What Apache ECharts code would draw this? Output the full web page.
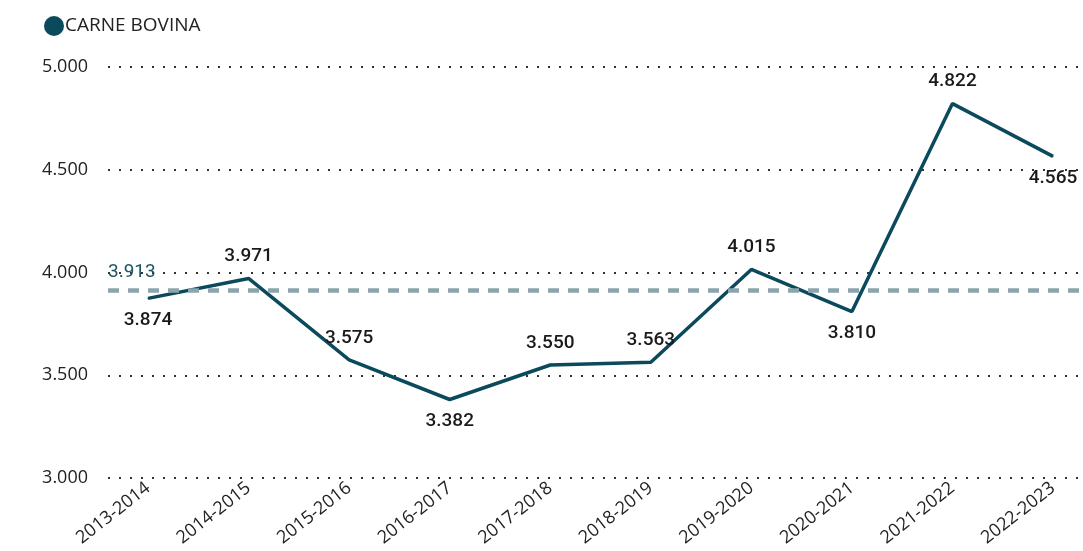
<!DOCTYPE html>
<html>
<head>
<meta charset="utf-8">
<script src="https://cdn.jsdelivr.net/npm/echarts@6/dist/echarts.min.js"></script>
<style>
  html, body { margin: 0; padding: 0; background: #fff; }
  #main { width: 1083px; height: 551px; }
</style>
</head>
<body>
<div id="main"></div>
<script>
var categories = ["2013-2014", "2014-2015", "2015-2016", "2016-2017", "2017-2018",
  "2018-2019", "2019-2020", "2020-2021", "2021-2022", "2022-2023"];
var carneBovina = [3874, 3971, 3575, 3382, 3550, 3563, 4015, 3810, 4822, 4565];
// where each value label sits relative to its point
var labelPos = ["bottom", "top", "top", "bottom", "top", "top", "top", "bottom", "top", "bottom"];

function fmt(v) {
  var s = String(Math.round(v));
  return s.replace(/\B(?=(\d{3})+(?!\d))/g, ".");
}

var seriesData = carneBovina.map(function (v, i) {
  return { value: [i, v], label: { position: labelPos[i] } };
});

var myChart = echarts.init(document.getElementById("main"));
myChart.setOption({
  animation: false,
  legend: {
    left: 39,
    top: 11,
    icon: "circle",
    itemWidth: 20,
    itemHeight: 20,
    itemGap: 4,
    textStyle: { fontFamily: "Open Sans", fontSize: 19, color: "#222", padding: [0, 0, 0, -4] },
    data: ["CARNE BOVINA"],
  },
  grid: { left: 108, right: 0, top: 67, bottom: 73 },
  xAxis: {
    type: "value",
    min: -0.398,
    max: 9.298,
    axisLine: { show: false },
    axisTick: { show: false },
    splitLine: { show: false },
    axisLabel: {
      customValues: categories.map(function (c, i) { return i; }),
      rotate: 38,
      margin: 8,
      fontFamily: "Open Sans",
      fontSize: 18,
      color: "#222",
      formatter: function (v) { return categories[Math.round(v)]; },
    },
  },
  yAxis: {
    type: "value",
    min: 3000,
    max: 5000,
    interval: 500,
    axisLine: { show: false },
    axisTick: { show: false },
    axisLabel: {
      margin: 20,
      fontFamily: "Open Sans",
      fontSize: 18,
      color: "#222",
      formatter: fmt,
    },
    splitLine: { lineStyle: { type: [2, 9], width: 2, color: "#333" } },
  },
  series: [
    {
      name: "CARNE BOVINA",
      type: "line",
      data: seriesData,
      symbol: "circle",
      symbolSize: 1,
      itemStyle: { color: "#0b4a5c" },
      lineStyle: { color: "#0b4a5c", width: 3.5 },
      label: {
        show: true,
        distance: 12,
        fontFamily: "Roboto",
        fontWeight: 500,
        fontSize: 19,
        color: "#1a1a1a",
        formatter: function (p) { return fmt(p.value[1]); },
      },
      markLine: {
        silent: true,
        symbol: "none",
        data: [{ type: "average", valueDim: "y" }],
        lineStyle: { type: [11, 9], width: 4.5, color: "#8aa5ad" },
        label: {
          position: "insideStartTop",
          distance: [0, 9],
          fontFamily: "Roboto",
          fontSize: 19,
          color: "#1d5566",
          formatter: function (p) { return fmt(p.value); },
        },
      },
    },
  ],
});
</script>
</body>
</html>
